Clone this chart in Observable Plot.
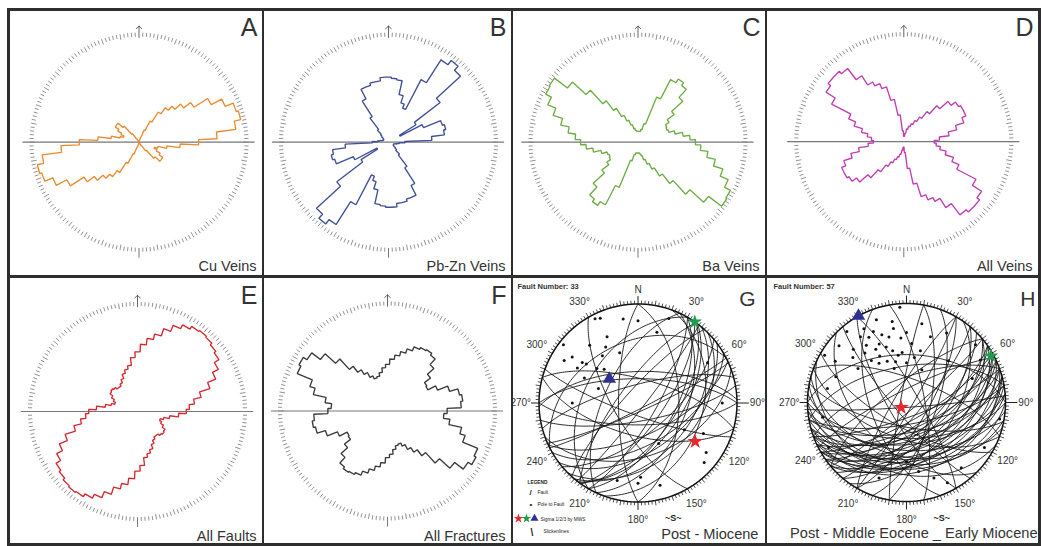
<!DOCTYPE html>
<html><head><meta charset="utf-8">
<script src="https://cdn.jsdelivr.net/npm/d3@7"></script>
<script src="https://cdn.jsdelivr.net/npm/@observablehq/plot@0.6"></script>
<style>
html,body{margin:0;padding:0;background:#fff;}
body{width:1041px;height:546px;position:relative;overflow:hidden;font-family:"Liberation Sans",Arial,sans-serif;}
#frame{position:absolute;left:7px;top:8px;width:1034px;height:538px;box-sizing:border-box;border:3px solid #2e2e2e;}
.panel{position:absolute;}
.panel svg{display:block;}
.div{position:absolute;background:#2e2e2e;}
</style></head><body>
<div id="frame"></div>
<script>
// ---------- DATA ----------
// Rose diagrams: relative petal length per 5-degree azimuth bin (0..175), axial (mirrored to 180..355)
const binAngles = d3.range(0, 180, 5);
const cuVeins      = [0,0,0,0.02,0.05,0.12,0.22,0.33,0.40,0.45,0.52,0.60,0.75,0.86,0.94,0.96,0.90,0.72,0.55,0.38,0.26,0.18,0.15,0.18,0.22,0.26,0.26,0.20,0.10,0.04,0.02,0,0,0,0,0];
const pbZnVeins    = [0.60,0.59,0.58,0.45,0.38,0.34,0.65,0.90,0.95,0.90,0.60,0.30,0.12,0.35,0.52,0.54,0.52,0.40,0.15,0.10,0.08,0.06,0.05,0.05,0.05,0.06,0.08,0.10,0.15,0.28,0.45,0.55,0.55,0.57,0.57,0.60];
const baVeins      = [0.10,0.10,0.10,0.12,0.18,0.45,0.65,0.69,0.66,0.56,0.42,0.34,0.30,0.29,0.30,0.35,0.42,0.48,0.53,0.58,0.65,0.73,0.82,0.90,0.96,0.97,0.82,0.65,0.48,0.37,0.28,0.22,0.17,0.13,0.11,0.10];
const allVeins     = [0.05,0.05,0.08,0.12,0.15,0.18,0.22,0.27,0.35,0.45,0.55,0.60,0.62,0.62,0.58,0.50,0.42,0.33,0.28,0.30,0.34,0.40,0.48,0.55,0.75,0.85,0.88,0.88,0.85,0.72,0.62,0.58,0.53,0.40,0.25,0.10];
const allFaults    = [0.55,0.62,0.68,0.73,0.80,0.86,0.90,0.93,0.94,0.93,0.91,0.89,0.84,0.78,0.70,0.60,0.53,0.48,0.45,0.38,0.30,0.25,0.22,0.24,0.27,0.30,0.31,0.30,0.28,0.28,0.30,0.33,0.37,0.40,0.43,0.50];
const allFractures = [0.43,0.48,0.52,0.56,0.60,0.64,0.66,0.67,0.65,0.58,0.50,0.43,0.42,0.50,0.60,0.68,0.70,0.68,0.55,0.52,0.58,0.70,0.75,0.90,0.92,0.88,0.78,0.65,0.52,0.45,0.40,0.35,0.32,0.33,0.36,0.40];

const roseLetters  = ["A","B","C","D","E","F"];
const roseCaptions = ["Cu Veins","Pb-Zn Veins","Ba Veins","All Veins","All Faults","All Fractures"];
const roseColors   = ["#e98b2f","#3f4f97","#6cae45","#c13bb3","#d42a2f","#3a3a3a"];

// Stereonets: fault planes as [dip direction, dip] (degrees)
const faultsG = [[153,85],[156,83],[170,75],[155,63],[128,85],[126,59],[127,55],[120,60],[143,50],[90,56],[195,63],[295,62],[306,74],[312,79],[270,74],[333,38],[358,64],[130,45],[135,40],[125,70],[140,65],[150,55],[120,75],[160,45],[115,50],[180,72],[0,70],[15,70],[200,80],[300,45],[345,75],[240,70],[110,35]];
const faultsH = [[140,83],[145,70],[150,65],[155,68],[160,62],[145,60],[176,86],[191,70],[120,72],[130,60],
  [125,50],[165,45],[170,40],[160,50],[155,55],[150,45],[175,55],[180,60],[185,50],[165,35],
  [160,30],[170,65],[150,75],[140,55],[135,65],[195,45],[200,60],[210,70],[145,40],[155,38],
  [165,58],[175,42],[180,33],[190,38],[130,78],[120,85],[110,65],[100,70],[240,75],[250,60],
  [60,80],[80,75],[333,80],[340,70],[320,75],[350,60],[0,50],[20,70],[300,80],[280,85],
  [225,50],[230,80],[160,78],[170,72],[150,52],[140,46],[205,30]];
// principal stresses [trend, plunge]: sigma1, sigma2, sigma3
const sigmaG = [[124,31],[35,0],[310,59]];
const sigmaH = [[227,84],[61,3],[331,0]];
const sigmaColors = ["#e8262b","#1f9d4c","#2e3192"];
const sigmaSymbols = ["star","star","triangle"];
const azLabels = [30,60,120,150,180,210,240,300,330];
const stereoTitles = ["Post - Miocene","Post - Middle Eocene _ Early Miocene"];
const faultNumbers = [33,57];
const legendItems = ["LEGEND","Fault","Pole to Fault","Sigma 1/2/3 by MWS","Slickenlines"];

// ---------- LAYOUT ----------
const rad = Math.PI/180;
const panels = [
  {x:10,  y:11,  w:252, h:264, cx:138.5, cy:141.7, R:108.5},
  {x:264, y:11,  w:247, h:264, cx:388,   cy:141.7, R:108.5},
  {x:513, y:11,  w:252, h:264, cx:637.5, cy:141.7, R:108.5},
  {x:767, y:11,  w:271, h:264, cx:903.3, cy:141.2, R:108.5},
  {x:10,  y:278, w:252, h:265, cx:137,   cy:411,   R:108.5},
  {x:264, y:278, w:247, h:265, cx:387,   cy:410.5, R:108.5},
  {x:513, y:278, w:252, h:265, cx:637.5, cy:402.5, R:99},
  {x:767, y:278, w:271, h:265, cx:906,   cy:402,   R:99}
];
[[262,11,2,532],[511,11,2,532],[765,11,2,532],[10,275,1028,3]].forEach(([l,t,w,h])=>{
  const d=document.createElement("div"); d.className="div";
  Object.assign(d.style,{left:l+"px",top:t+"px",width:w+"px",height:h+"px"});
  document.body.appendChild(d);
});

const px = (r,a)=>r*Math.sin(a*rad), py=(r,a)=>r*Math.cos(a*rad);

function mount(p, marks){
  const R=p.R;
  const svg = Plot.plot({
    width:p.w, height:p.h, margin:0,
    x:{domain:[(p.x-p.cx)/R,(p.x+p.w-p.cx)/R], axis:null},
    y:{domain:[(p.cy-(p.y+p.h))/R,(p.cy-p.y)/R], axis:null},
    style:{background:"transparent", overflow:"visible", fontFamily:"Liberation Sans, Arial, sans-serif"},
    marks
  });
  const div=document.createElement("div"); div.className="panel";
  Object.assign(div.style,{left:p.x+"px",top:p.y+"px",width:p.w+"px",height:p.h+"px"});
  div.appendChild(svg); document.body.appendChild(div);
}

function rosePoints(vals){
  const full = vals.concat(vals);
  const pts=[];
  full.forEach((r,i)=>{
    const c=i*5;
    [c-2.5,c+2.5].forEach(a=>pts.push({x:px(r,a),y:py(r,a)}));
  });
  pts.push(pts[0]);
  return pts;
}

const roseData=[cuVeins,pbZnVeins,baVeins,allVeins,allFaults,allFractures];
roseData.forEach((vals,i)=>{
  const p=panels[i];
  const ticks=d3.range(0,360,2).filter(a=>a!==0&&a!==180);
  mount(p,[
    Plot.ruleY([0],{x1:()=>-1.07,x2:()=>1.07,stroke:"#777",strokeWidth:1.2}),
    Plot.link(ticks,{x1:a=>px(a%10?0.972:0.958,a),y1:a=>py(a%10?0.972:0.958,a),x2:a=>px(1.01,a),y2:a=>py(1.01,a),stroke:"#808080",strokeWidth:0.85}),
    Plot.link([180],{x1:a=>px(0.975,a),y1:a=>py(0.975,a),x2:a=>px(1.065,a),y2:a=>py(1.065,a),stroke:"#777",strokeWidth:1}),
    Plot.arrow([0],{x1:()=>0,y1:()=>0.965,x2:()=>0,y2:()=>1.07,stroke:"#555",strokeWidth:0.9,headLength:7,headAngle:95}),
    Plot.line(rosePoints(vals),{x:"x",y:"y",stroke:roseColors[i],strokeWidth:1.35,strokeLinejoin:"miter"}),
    Plot.text([roseLetters[i]],{text:d=>d,frameAnchor:"top-right",lineAnchor:"top",textAnchor:"end",dx:-5,dy:i<4?7:8,fontSize:25,fill:"#333"}),
    Plot.text([roseCaptions[i]],{text:d=>d,frameAnchor:"bottom-right",lineAnchor:"bottom",textAnchor:"end",dx:-6,dy:i<4?-5:-3,fontSize:14.5,fill:"#333"})
  ]);
});

// ---------- STEREONETS (equal-area, lower hemisphere) ----------
function eqArea(trend,plunge){
  const r=Math.SQRT2*Math.sin((90-plunge)*rad/2);
  return {x:r*Math.sin(trend*rad),y:r*Math.cos(trend*rad)};
}
function greatCircles(list){
  const pts=[];
  list.forEach(([dd,dip],id)=>{
    const s=(dd-90)*rad,d=dd*rad,dp=dip*rad;
    for(let a=0;a<=180;a+=2){
      const ar=a*rad;
      const e=Math.cos(ar)*Math.sin(s)+Math.sin(ar)*Math.cos(dp)*Math.sin(d);
      const n=Math.cos(ar)*Math.cos(s)+Math.sin(ar)*Math.cos(dp)*Math.cos(d);
      const dn=Math.sin(ar)*Math.sin(dp);
      const pl=Math.asin(Math.min(1,Math.max(0,dn)))/rad;
      const tr=Math.atan2(e,n)/rad;
      pts.push({...eqArea(tr,pl),id});
    }
  });
  return pts;
}
const poles=list=>list.map(([dd,dip])=>eqArea(dd+180,90-dip));
const lt=(str,dx,dy,opt={})=>Plot.text([str],{text:d=>d,frameAnchor:"bottom-left",textAnchor:"start",dx,dy,fontSize:4.8,fill:"#222",...opt});
const sigmaSizes=[4.8,4.6,5];

[[faultsG,sigmaG],[faultsH,sigmaH]].forEach(([faults,sig],k)=>{
  const p=panels[6+k];
  const circle=d3.range(0,361,2).map(a=>({x:px(1,a),y:py(1,a)}));
  const ticks=d3.range(0,360,2).filter(a=>a%90!==0);
  const marks=[
    Plot.line(greatCircles(faults),{x:"x",y:"y",z:"id",stroke:"#151515",strokeWidth:0.9}),
    Plot.line(circle,{x:"x",y:"y",stroke:"#111",strokeWidth:1.5}),
    Plot.link(ticks,{x1:a=>px(1,a),y1:a=>py(1,a),x2:a=>px(a%10?1.035:1.05,a),y2:a=>py(a%10?1.035:1.05,a),stroke:"#222",strokeWidth:0.8}),
    Plot.link([0,90,180,270],{x1:a=>px(1,a),y1:a=>py(1,a),x2:a=>px(a===90?1.12:1.08,a),y2:a=>py(a===90?1.12:1.08,a),stroke:"#222",strokeWidth:1}),
    Plot.dot(poles(faults),{x:"x",y:"y",r:1.5,fill:"#111"}),
    Plot.text(azLabels,{x:a=>px(1.18,a),y:a=>py(1.18,a),text:a=>a+"°",fontSize:10,fill:"#333"}),
    Plot.text([270],{x:()=>-1.08,y:()=>0,text:a=>a+"°",textAnchor:"end",fontSize:10,fill:"#333"}),
    Plot.text([90],{x:()=>1.13,y:()=>0,text:a=>a+"°",textAnchor:"start",fontSize:10,fill:"#333"}),
    Plot.text(["N"],{x:()=>0,y:()=>1.14,text:d=>d,fontSize:10,fill:"#333"}),
    Plot.text(["S"],{x:()=>px(1.22,163),y:()=>py(1.22,163),text:()=>"~S~",fontSize:9,fontWeight:"bold",fill:"#222"}),
    ...sig.map(([t,pl],j)=>Plot.dot([eqArea(t,pl)],{x:"x",y:"y",symbol:sigmaSymbols[j],fill:sigmaColors[j],r:sigmaSizes[j]})),
    Plot.text([`Fault Number: ${faultNumbers[k]}`],{text:d=>d,frameAnchor:"top-left",lineAnchor:"top",dx:k?6:4,dy:5,fontSize:7.5,fontWeight:"bold",fill:"#333"}),
    Plot.text([["G","H"][k]],{text:d=>d,frameAnchor:"top-right",lineAnchor:"top",textAnchor:"end",dx:k?-3:-10,dy:13,fontSize:21,fill:"#333"}),
    Plot.text([stereoTitles[k]],{text:d=>d,frameAnchor:"bottom-right",lineAnchor:"bottom",textAnchor:"end",dx:k?-1:-7,dy:k?-6:-5,fontSize:14.6,fill:"#333"})
  ];
  if(k===0){
    marks.push(
      lt(legendItems[0],14,-60,{fontWeight:"bold"}),
      lt("/",16,-49,{fontSize:8,fontWeight:"bold"}),
      lt(legendItems[1],24,-50),
      lt("•",16,-37,{fontSize:8}),
      lt(legendItems[2],24,-38),
      lt(legendItems[3],27,-23),
      lt("\\",17,-8,{fontSize:10,fontWeight:"bold"}),
      lt(legendItems[4],30,-11),
      ...[0,1,2].map(j=>Plot.dot([j],{frameAnchor:"bottom-left",dx:5+j*8,dy:-25,symbol:sigmaSymbols[j],fill:sigmaColors[j],r:3}))
    );
  }
  mount(p,marks);
});
</script>
</body></html>
